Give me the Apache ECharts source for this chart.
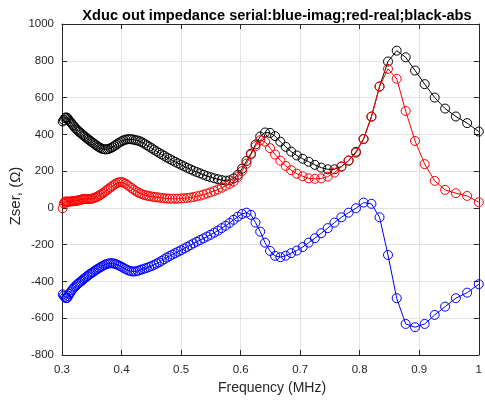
<!DOCTYPE html>
<html>
<head>
<meta charset="utf-8">
<script src="https://cdn.jsdelivr.net/npm/echarts@6/dist/echarts.min.js"></script>
<style>
html,body{margin:0;padding:0;background:#fff;}
#chart{width:485px;height:400px;}
</style>
</head>
<body>
<div id="chart"></div>
<script>
// Frequency (MHz) of each sample
var freq = [
0.3012,0.3030,0.3049,0.3067,0.3086,0.3106,0.3125,0.3145,0.3165,0.3185,
0.3205,0.3226,0.3247,0.3268,0.3289,0.3311,0.3333,0.3356,0.3378,0.3401,
0.3425,0.3448,0.3472,0.3497,0.3521,0.3546,0.3571,0.3597,0.3623,0.3650,
0.3676,0.3704,0.3731,0.3759,0.3788,0.3817,0.3846,0.3876,0.3906,0.3937,
0.3968,0.4000,0.4032,0.4065,0.4098,0.4132,0.4167,0.4202,0.4237,0.4274,
0.4310,0.4348,0.4386,0.4425,0.4464,0.4505,0.4545,0.4587,0.4630,0.4673,
0.4717,0.4762,0.4808,0.4854,0.4902,0.4950,0.5000,0.5051,0.5102,0.5155,
0.5208,0.5263,0.5319,0.5376,0.5435,0.5495,0.5556,0.5618,0.5682,0.5747,
0.5814,0.5882,0.5952,0.6024,0.6098,0.6173,0.6250,0.6329,0.6410,0.6494,
0.6579,0.6667,0.6757,0.6849,0.6944,0.7042,0.7143,0.7246,0.7353,0.7463,
0.7576,0.7692,0.7813,0.7937,0.8065,0.8197,0.8333,0.8475,0.8621,0.8772,
0.8929,0.9091,0.9259,0.9434,0.9615,0.9804,1.0000
];
// abs (black)
var absZ = [
470,478,488,492,490,482,472,466,458,450,
442,433,426,420,414,408,402,395,389,383,
377,371,365,359,353,347,341,335,330,325,
321,319,318,319,321,325,330,336,343,350,
356,362,367,371,373,374,373,371,368,366,
362,356,349,341,333,325,316,308,299,291,
283,274,266,258,250,242,234,226,218,210,
202,195,188,180,173,167,161,156,151,148,
150,160,180,213,255,295,345,388,410,408,
390,360,332,306,285,267,251,234,219,210,
210,225,258,305,375,497,660,796,855,819,
747,673,600,540,497,461,415
];
// real (red)
var realZ = [
-2,25,33,35,34,33,34,35,36,36,
37,38,39,40,42,44,46,48,49,49,
48,48,49,50,52,55,58,62,67,72,
78,84,91,98,105,112,119,126,132,137,
140,140,137,132,125,117,108,100,92,85,
79,74,70,67,64,62,60,58,56,54,
52,51,50,50,50,50,51,52,54,56,
59,63,67,72,78,85,92,100,110,120,
131,143,168,200,240,290,335,368,360,325,
290,257,228,205,186,172,161,158,160,170,
192,224,256,300,375,495,660,756,702,527,
364,238,147,98,80,65,31
];
// imag (blue)
var imagZ = [
-470,-478,-486,-491,-490,-480,-468,-458,-448,-440,
-433,-426,-419,-413,-407,-401,-396,-389,-383,-377,
-371,-365,-359,-354,-349,-343,-337,-332,-327,-322,
-317,-312,-308,-304,-302,-301,-301,-303,-306,-310,
-315,-320,-326,-332,-338,-342,-345,-346,-345,-342,
-338,-334,-330,-326,-321,-316,-310,-303,-296,-288,
-279,-270,-262,-254,-246,-238,-230,-221,-212,-203,
-193,-184,-175,-166,-156,-146,-135,-124,-110,-97,
-82,-65,-48,-33,-26,-38,-80,-129,-189,-234,
-261,-268,-260,-246,-232,-213,-189,-165,-138,-110,
-80,-51,-26,-2,29,22,-51,-256,-491,-631,
-649,-631,-582,-537,-491,-461,-415
];
var xTicks = [0.3,0.4,0.5,0.6,0.7,0.8,0.9,1];
var yTicks = [-800,-600,-400,-200,0,200,400,600,800,1000];

function pairs(vals){ return freq.map(function(f,i){ return [f, vals[i]]; }); }

var axisColor = '#262626';
var fontFam = '"Liberation Sans", Arial, Helvetica, sans-serif';

var chart = echarts.init(document.getElementById('chart'), null, {renderer:'canvas'});

function mkSeries(name, color, vals, z){
  return {
    name: name, type: 'line', data: pairs(vals), xAxisIndex: 0, yAxisIndex: 0,
    symbol: 'circle', symbolSize: 9, showAllSymbol: true,
    lineStyle: {color: color, width: 1},
    itemStyle: {color: 'rgba(0,0,0,0)', borderColor: color, borderWidth: 1},
    emphasis: {disabled: true}, z: z, animation: false
  };
}

function axisCommon(){
  return {
    axisLine: {show: true, onZero: false, lineStyle: {color: axisColor, width: 1}},
    axisTick: {show: true, inside: true, length: 5, lineStyle: {color: axisColor}}
  };
}

chart.setOption({
  animation: false,
  backgroundColor: '#fff',
  title: {
    text: 'Xduc out impedance serial:blue-imag;red-real;black-abs',
    left: 272, top: 3, textAlign: 'center',
    textStyle: {fontFamily: fontFam, fontSize: 14.6, fontWeight: 'bold', color: '#000'}
  },
  grid: {left: 62, right: 3, top: 24, bottom: 45, containLabel: false},
  xAxis: [Object.assign({
    type: 'value', min: xTicks[0], max: xTicks[xTicks.length-1], interval: 0.1, position: 'bottom',
    axisLabel: {color: axisColor, fontSize: 11.5, fontFamily: fontFam, margin: 9,
      formatter: function(v){ return String(Math.round(v*10)/10); }},
    splitLine: {show: true, lineStyle: {color: '#e3e3e3', width: 1}}
  }, axisCommon()), Object.assign({
    type: 'value', min: xTicks[0], max: xTicks[xTicks.length-1], interval: 0.1, position: 'top',
    axisLabel: {show: false}, splitLine: {show: false}
  }, axisCommon())],
  yAxis: [Object.assign({
    type: 'value', min: yTicks[0], max: yTicks[yTicks.length-1], interval: 200, position: 'left',
    axisLabel: {color: axisColor, fontSize: 11.5, fontFamily: fontFam, margin: 8,
      formatter: function(v){ return String(Math.round(v)); }},
    splitLine: {show: true, lineStyle: {color: '#e3e3e3', width: 1}}
  }, axisCommon()), Object.assign({
    type: 'value', min: yTicks[0], max: yTicks[yTicks.length-1], interval: 200, position: 'right',
    axisLabel: {show: false}, splitLine: {show: false}
  }, axisCommon())],
  graphic: [{
    type: 'text', x: 272, y: 388,
    style: {text: 'Frequency (MHz)', fill: axisColor, font: '14px ' + fontFam, textAlign: 'center', textVerticalAlign: 'middle'}
  },{
    type: 'text', x: 16, y: 196, rotation: Math.PI/2,
    style: {text: 'Zser, (\u03A9)', fill: axisColor, font: '15px ' + fontFam, textAlign: 'center', textVerticalAlign: 'middle'}
  }],
  series: [
    mkSeries('imag', '#0000ff', imagZ, 2),
    mkSeries('abs', '#000000', absZ, 3),
    mkSeries('real', '#ff0000', realZ, 4)
  ]
});
</script>
</body>
</html>
